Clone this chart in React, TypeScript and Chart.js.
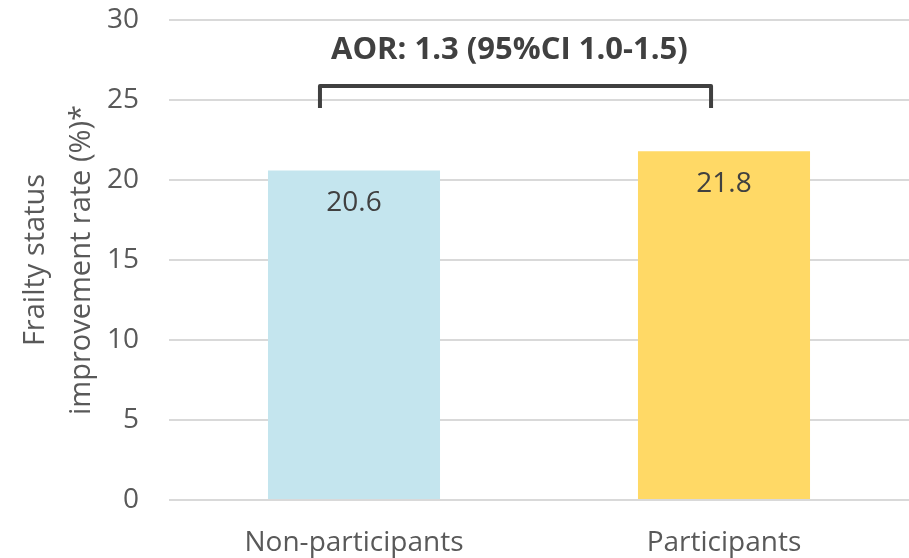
import React, { useEffect, useRef } from "react";
import { Chart, registerables } from "chart.js";

Chart.register(...registerables);

// Data
const categories = ["Non-participants", "Participants"];
const improvementRates = [20.6, 21.8];
const barColors = ["#C4E5EE", "#FFD966"];
const yTicks = [0, 5, 10, 15, 20, 25, 30];
const yTitleLines = ["Frailty status", "improvement rate (%)*"];
const aorLabel = "AOR: 1.3 (95%CI 1.0-1.5)";

// Bracket joining the two groups, in category / value units
const bracketX = [-0.092, 0.965];
const bracketY = [24.5, 25.875];
const aorLabelPos = [0.42, 28.1];

const FONT = "'Open Sans', 'Noto Sans', sans-serif";
const TEXT_GRAY = "#595959";
const DARK_GRAY = "#404040";

const overlayPlugin = {
  id: "overlay",
  afterDraw(chart: any) {
    const { ctx, chartArea } = chart;
    const xs = chart.scales.x;
    const ys = chart.scales.y;
    ctx.save();

    // Value labels inside the top of each bar
    ctx.font = `28px ${FONT}`;
    ctx.fillStyle = DARK_GRAY;
    ctx.textAlign = "center";
    ctx.textBaseline = "middle";
    const meta = chart.getDatasetMeta(0);
    meta.data.forEach((bar: any, i: number) => {
      ctx.fillText(improvementRates[i].toFixed(1), bar.x, bar.y + 33);
    });

    // Bracket
    const x0 = xs.getPixelForValue(bracketX[0]);
    const x1 = xs.getPixelForValue(bracketX[1]);
    const yLow = ys.getPixelForValue(bracketY[0]);
    const yHigh = ys.getPixelForValue(bracketY[1]);
    ctx.strokeStyle = DARK_GRAY;
    ctx.lineWidth = 4;
    ctx.lineJoin = "round";
    ctx.beginPath();
    ctx.moveTo(x0, yLow);
    ctx.lineTo(x0, yHigh);
    ctx.lineTo(x1, yHigh);
    ctx.lineTo(x1, yLow);
    ctx.stroke();

    // AOR annotation
    ctx.font = `bold 31px ${FONT}`;
    ctx.fillStyle = DARK_GRAY;
    ctx.fillText(
      aorLabel,
      xs.getPixelForValue(aorLabelPos[0]),
      ys.getPixelForValue(aorLabelPos[1])
    );

    // Two-line rotated y-axis title
    const cy = (chartArea.top + chartArea.bottom) / 2;
    ctx.font = `29px ${FONT}`;
    ctx.fillStyle = TEXT_GRAY;
    const lineX = [36, 82];
    yTitleLines.forEach((line, i) => {
      ctx.save();
      ctx.translate(lineX[i], cy);
      ctx.rotate(-Math.PI / 2);
      ctx.fillText(line, 0, 0);
      ctx.restore();
    });

    ctx.restore();
  },
};

export default function App() {
  const canvasRef = useRef<HTMLCanvasElement | null>(null);

  useEffect(() => {
    if (!canvasRef.current) return;
    const chart = new Chart(canvasRef.current, {
      type: "bar",
      data: {
        labels: categories,
        datasets: [
          {
            data: improvementRates,
            backgroundColor: barColors,
            borderWidth: 0,
            barPercentage: 0.465,
            categoryPercentage: 1,
          },
        ],
      },
      options: {
        animation: false,
        responsive: true,
        maintainAspectRatio: false,
        layout: { padding: { top: 20, right: 0, left: 0, bottom: 0 } },
        plugins: {
          legend: { display: false },
          tooltip: { enabled: false },
        },
        scales: {
          x: {
            grid: { display: false },
            border: { display: false },
            ticks: {
              color: TEXT_GRAY,
              font: { family: FONT, size: 28 },
              padding: 18,
              maxRotation: 0,
            },
            afterFit(scale: any) {
              scale.height = 58;
              scale.paddingLeft = 0;
              scale.paddingRight = 0;
            },
          },
          y: {
            min: 0,
            max: 30,
            afterBuildTicks(scale: any) {
              scale.ticks = yTicks.map((v) => ({ value: v }));
            },
            grid: {
              color: "#D9D9D9",
              lineWidth: 2,
              drawTicks: false,
            },
            border: { display: false },
            ticks: {
              color: TEXT_GRAY,
              font: { family: FONT, size: 28 },
              padding: 30,
            },
            afterFit(scale: any) {
              scale.width = 169;
              scale.paddingTop = 0;
              scale.paddingBottom = 0;
            },
          },
        },
      },
      plugins: [overlayPlugin],
    });
    return () => chart.destroy();
  }, []);

  return (
    <div style={{ position: "fixed", left: 0, top: 0, width: 909, height: 558, background: "#fff" }}>
      <canvas ref={canvasRef} />
    </div>
  );
}
